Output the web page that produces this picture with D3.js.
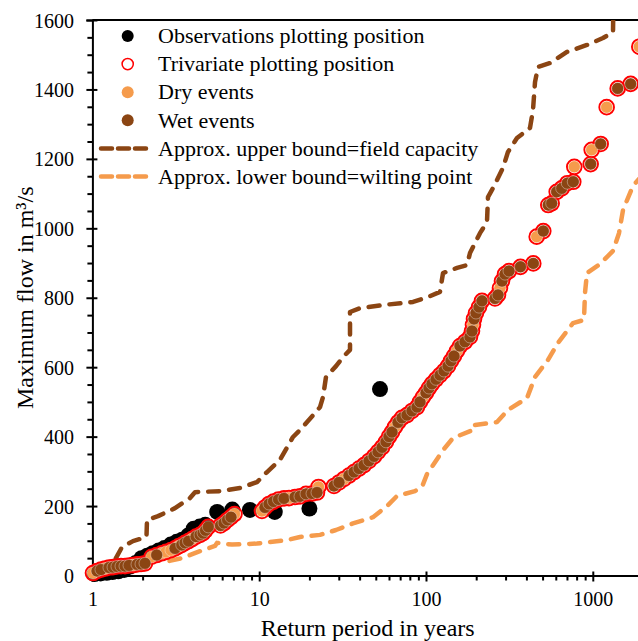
<!DOCTYPE html>
<html>
<head>
<meta charset="utf-8">
<script src="https://cdn.jsdelivr.net/npm/d3@7"></script>
<style>
  html, body { margin: 0; padding: 0; background: #fff; }
  svg { display: block; font-family: "Liberation Serif", "Times New Roman", serif; }
</style>
</head>
<body>
<svg id="chart" width="638" height="641"></svg>
<script>
// Return period (years) vs. maximum flow (m³/s)

const xTicks = [1, 10, 100, 1000];
const xMinorTicks = [2,3,4,5,6,7,8,9,20,30,40,50,60,70,80,90,200,300,400,500,600,700,800,900,2000];
const yTicks = [0, 200, 400, 600, 800, 1000, 1200, 1400, 1600];
const yMinorTicks = d3.range(0, 1601, 50).filter(v => v % 200 !== 0);

// Observed annual maxima, plotting position [T, Q]
const observations = [
  [1.03,4],[1.12,6],[1.22,8],[1.32,10],[1.43,12],[1.55,16],[1.68,26],[1.82,36],
  [1.97,50],[2.13,57],[2.3,64],[2.5,72],[2.7,79],[2.95,89],[3.2,97],[3.45,103],
  [3.75,115],[4.05,135],[4.4,141],[4.75,146],[5.6,183],[6.9,190],[8.8,189],
  [12.4,183],[20.0,193],[53,537]
];

// Simulated events classified as dry [T, Q]
const dryEvents = [
  [1.008,7],[1.19,20],[1.751,30],[2.267,54],[2.603,64],[2.763,68],[2.96,73],
  [3.283,84],[3.955,105],[7.11,177],[10.39,186],[15.09,223],[22.68,255],
  [32.23,278],[65.19,428],[95.94,514],[153.4,647],[191.3,722],[277.7,828],
  [460.9,976],[774.5,1177],[984.7,1226],[1211,1349],[1900,1523]
];

// Simulated events classified as wet [T, Q]
const wetEvents = [
  [1.066,13],[1.126,17],[1.257,23],[1.329,24],[1.404,26],[1.484,27],[1.568,27],
  [1.658,29],[1.851,32],[1.956,33],[2.067,35],
  [2.429,59],[3.128,78],[3.431,88],[3.591,94],[3.769,99],[4.18,112],[4.417,117],
  [4.604,122],[4.765,130],[4.953,140],
  [5.861,144],[6.152,151],[6.456,160],[6.774,168],
  [10.83,196],[11.45,206],[12.18,213],[13.05,219],[14.08,222],[16.39,226],
  [17.56,228],[19.08,235],[20.73,236],[22.21,239],
  [28.08,258],[30.09,268],[34.54,288],[37.01,298],[39.66,308],[42.49,318],
  [45.53,330],[48.78,343],[51.55,356],[54.48,369],[57.56,385],[60.0,400],
  [62.54,413],[67.95,441],[71.81,454],[76.91,462],[82.41,474],[88.31,485],
  [92.04,500],[99.98,526],[104.2,540],[108.6,552],[114.8,565],[121.3,577],
  [128.2,589],[135.5,603],[141.2,618],[147.2,632],[159.9,661],[171.3,673],
  [183.5,687],[188.7,704],[194.0,739],[199.4,756],[207.9,773],[216.6,791],
  [259.2,798],[270.2,808],[285.5,848],[297.6,868],[314.5,877],[368.5,889],
  [439.8,899],[504.9,992],[540.9,1067],[567.0,1072],[607.5,1105],[650.8,1115],
  [703.1,1130],[763.8,1134],[971.2,1185],[1115,1243],[1410,1403],[1687,1416]
];

// Approximate bounds of the event flows
const upperBound = [
  [1.11,10],[1.366,45],[1.505,82],[1.751,99],[2.11,111],[2.125,160],[2.474,171],
  [3.128,194],[3.847,223],[4.122,240],[5.821,243],[7.671,252],[9.70,269],
  [11.14,298],[13.32,333],[15.95,399],[17.56,419],[21.61,468],[23.15,485],
  [24.13,514],[25.15,572],[28.87,603],[31.8,629],[35.03,650],[35.03,759],
  [40.2,770],[55.2,779],[83.6,788],[102.8,802],[121.3,817],[126.5,871],
  [153.5,886],[176.2,894],[183.6,929],[210.7,986],[232.1,1018],[235.3,1090],
  [252.2,1116],[289.5,1174],[310.1,1220],[351.3,1260],[420.3,1289],[438.1,1341],
  [450.4,1421],[469.5,1465],[553.9,1476],[700.2,1508],[923,1528],[1151,1548],
  [1322,1565],[1331,1680]
];
const lowerBound = [
  [2.9,42],[3.445,50],[4.297,68],[5.433,85],[5.585,94],
  [6.87,89],[9.70,92],[14.68,102],[17.56,111],[23.15,117],[28.87,131],
  [36.5,150],[48.1,168],[58.4,200],[67.0,229],[85.9,243],[94.6,255],
  [101.4,292],[108.6,313],[126.5,361],[145.2,396],[191.3,419],[191.3,433],
  [266.6,442],[310.1,477],[403.3,511],[450.4,572],[538.8,621],[618.4,670],
  [760.8,727],[885.6,736],[898,814],[923,871],[1105,897],[1322,935],
  [1436,986],[1518,1053],[1741,1122],[2055,1162]
];

const BROWN = "#8B4513";
const ORANGE = "#F59B4C";
const RED = "#FF0000";

const svg = d3.select("#chart");
const mLeft = 92.4, mRight = 643, mTop = 20, mBottom = 575.5;

const x = d3.scaleLog().domain([1, 2000]).range([mLeft, mRight]);
const y = d3.scaleLinear().domain([0, 1600]).range([mBottom, mTop]);

svg.append("defs").append("clipPath").attr("id", "plotClip")
  .append("rect").attr("x", mLeft).attr("y", mTop)
  .attr("width", mRight - mLeft).attr("height", mBottom - mTop);

// Axes
const gx = svg.append("g").attr("transform", `translate(0,${mBottom})`)
  .call(d3.axisBottom(x).tickValues(xTicks).tickSizeOuter(0).tickSize(6)
    .tickFormat(d3.format("d")));
gx.selectAll(".tick line").attr("y1", -4).attr("y2", 6);
gx.selectAll(".tick text").attr("y", 30.5).attr("dy", "0")
  .attr("font-size", 20).attr("font-family", "Liberation Serif").attr("fill", "#000");

const gxm = svg.append("g").attr("transform", `translate(0,${mBottom})`)
  .call(d3.axisBottom(x).tickValues(xMinorTicks).tickSizeOuter(0).tickSize(5).tickFormat(""));
gxm.select(".domain").remove();

const gy = svg.append("g").attr("transform", `translate(${mLeft},0)`)
  .call(d3.axisLeft(y).tickValues(yTicks).tickSizeOuter(0).tickSize(6)
    .tickFormat(d3.format("d")));
gy.selectAll(".tick line").attr("x1", 5).attr("x2", -6);
gy.selectAll(".tick text").attr("x", -18.4).attr("dy", "0.35em")
  .attr("font-size", 20).attr("font-family", "Liberation Serif").attr("fill", "#000");

const gym = svg.append("g").attr("transform", `translate(${mLeft},0)`)
  .call(d3.axisLeft(y).tickValues(yMinorTicks).tickSizeOuter(0).tickSize(5).tickFormat(""));
gym.select(".domain").remove();

svg.selectAll(".domain, .tick line").attr("stroke", "#000").attr("stroke-width", 2);

// frame top and right
svg.append("path")
  .attr("d", `M${mLeft},${mTop}H${mRight}V${mBottom}`)
  .attr("fill", "none").attr("stroke", "#000").attr("stroke-width", 2);

// Axis titles
svg.append("text")
  .attr("x", (mLeft + mRight) / 2).attr("y", 636)
  .attr("text-anchor", "middle").attr("font-size", 24)
  .text("Return period in years");
svg.append("text")
  .attr("transform", `translate(33,${(mTop + mBottom) / 2}) rotate(-90)`)
  .attr("text-anchor", "middle").attr("font-size", 24)
  .text("Maximum flow in m³/s");

// Bound lines
const line = d3.line().x(d => x(d[0])).y(d => y(d[1]));
const plot = svg.append("g");
const lines = plot.append("g").attr("clip-path", "url(#plotClip)");
lines.append("path").datum(upperBound).attr("d", line)
  .attr("fill", "none").attr("stroke", BROWN).attr("stroke-width", 4.5)
  .attr("stroke-dasharray", "11,10").attr("stroke-linecap", "round")
  .attr("stroke-linejoin", "round");
lines.append("path").datum(lowerBound).attr("d", line)
  .attr("fill", "none").attr("stroke", ORANGE).attr("stroke-width", 4.5)
  .attr("stroke-dasharray", "11,10").attr("stroke-linecap", "round")
  .attr("stroke-linejoin", "round");

// Observations
plot.append("g").selectAll("circle").data(observations).join("circle")
  .attr("cx", d => x(d[0])).attr("cy", d => y(d[1])).attr("r", 8)
  .attr("fill", "#000");

// Trivariate plotting position rings
const allEvents = dryEvents.concat(wetEvents);
plot.append("g").selectAll("circle").data(allEvents).join("circle")
  .attr("cx", d => x(d[0])).attr("cy", d => y(d[1])).attr("r", 7.3)
  .attr("fill", "none").attr("stroke", RED).attr("stroke-width", 2);

// Dry and wet events
plot.append("g").selectAll("circle").data(dryEvents).join("circle")
  .attr("cx", d => x(d[0])).attr("cy", d => y(d[1])).attr("r", 6)
  .attr("fill", ORANGE).attr("stroke", "#fff").attr("stroke-width", 0.6)
  .attr("stroke-opacity", 0.6);
plot.append("g").selectAll("circle").data(wetEvents).join("circle")
  .attr("cx", d => x(d[0])).attr("cy", d => y(d[1])).attr("r", 6)
  .attr("fill", BROWN).attr("stroke", "#fff").attr("stroke-width", 0.6)
  .attr("stroke-opacity", 0.6);

// Legend
const legendItems = [
  { label: "Observations plotting position", type: "dot", fill: "#000" },
  { label: "Trivariate plotting position", type: "ring", stroke: RED },
  { label: "Dry events", type: "dot", fill: ORANGE },
  { label: "Wet events", type: "dot", fill: BROWN },
  { label: "Approx. upper bound=field capacity", type: "line", stroke: BROWN },
  { label: "Approx. lower bound=wilting point", type: "line", stroke: ORANGE }
];
const legend = svg.append("g");
legendItems.forEach((it, i) => {
  const cy = 36 + i * 28.1;
  if (it.type === "dot") {
    legend.append("circle").attr("cx", 127.7).attr("cy", cy).attr("r", 6).attr("fill", it.fill);
  } else if (it.type === "ring") {
    legend.append("circle").attr("cx", 127.7).attr("cy", cy).attr("r", 5.6)
      .attr("fill", "none").attr("stroke", it.stroke).attr("stroke-width", 1.5);
  } else {
    legend.append("line").attr("x1", 101).attr("x2", 147).attr("y1", cy).attr("y2", cy)
      .attr("stroke", it.stroke).attr("stroke-width", 4.5)
      .attr("stroke-dasharray", "11,6").attr("stroke-linecap", "round");
  }
  legend.append("text").attr("x", 158).attr("y", cy).attr("dy", "0.33em")
    .attr("font-size", 22).text(it.label);
});
</script>
</body>
</html>
